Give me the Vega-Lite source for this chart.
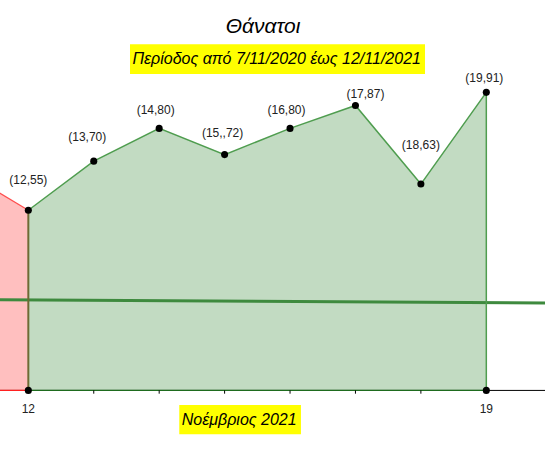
{
  "$schema": "https://vega.github.io/schema/vega-lite/v6.json",
  "width": 545,
  "height": 451,
  "autosize": {"type": "fit", "contains": "padding"},
  "padding": 0,
  "config": {"view": {"stroke": null}, "font": "Liberation Sans"},
  "datasets": {
    "deaths": [
      {"day": 12, "deaths": 55, "label": "(12,55)"},
      {"day": 13, "deaths": 70, "label": "(13,70)"},
      {"day": 14, "deaths": 80, "label": "(14,80)"},
      {"day": 15, "deaths": 72, "label": "(15,,72)"},
      {"day": 16, "deaths": 80, "label": "(16,80)"},
      {"day": 17, "deaths": 87, "label": "(17,87)"},
      {"day": 18, "deaths": 63, "label": "(18,63)"},
      {"day": 19, "deaths": 91, "label": "(19,91)"}
    ],
    "previous": [
      {"day": 11, "deaths": 67},
      {"day": 12, "deaths": 55}
    ],
    "trend": [
      {"day": 11, "deaths": 27.71},
      {"day": 20, "deaths": 26.69}
    ],
    "ticks": [
      {"day": 13}, {"day": 14}, {"day": 15}, {"day": 16}, {"day": 17}, {"day": 18}
    ],
    "ends": [
      {"day": 12, "tick": "12"},
      {"day": 19, "tick": "19"}
    ]
  },
  "layer": [
    {
      "data": {"name": "previous"},
      "mark": {"type": "area", "color": "#ffbfbf", "clip": true},
      "encoding": {
        "x": {"field": "day", "type": "quantitative", "scale": {"domain": [11.567, 19.897], "nice": false, "zero": false}, "axis": null},
        "y": {"field": "deaths", "type": "quantitative", "scale": {"domain": [-18.5, 119.2], "nice": false, "zero": false}, "axis": null},
        "y2": {"datum": 0}
      }
    },
    {
      "data": {"name": "deaths"},
      "mark": {"type": "area", "color": "#c2dbc2"},
      "encoding": {
        "x": {"field": "day", "type": "quantitative", "axis": null},
        "y": {"field": "deaths", "type": "quantitative", "axis": null},
        "y2": {"datum": 0}
      }
    },
    {
      "data": {"name": "trend"},
      "mark": {"type": "line", "color": "#3e8a3e", "strokeWidth": 3, "clip": true},
      "encoding": {
        "x": {"field": "day", "type": "quantitative", "axis": null},
        "y": {"field": "deaths", "type": "quantitative", "axis": null}
      }
    },
    {
      "data": {"name": "previous"},
      "mark": {"type": "line", "color": "#ff4d4d", "strokeWidth": 1.2, "clip": true},
      "encoding": {
        "x": {"field": "day", "type": "quantitative", "axis": null},
        "y": {"field": "deaths", "type": "quantitative", "axis": null}
      }
    },
    {
      "data": {"name": "deaths"},
      "mark": {"type": "line", "color": "#4f9d4f", "strokeWidth": 1.5},
      "encoding": {
        "x": {"field": "day", "type": "quantitative", "axis": null},
        "y": {"field": "deaths", "type": "quantitative", "axis": null}
      }
    },
    {
      "data": {"name": "deaths"},
      "transform": [{"filter": "datum.day == 12"}],
      "mark": {"type": "rule", "color": "#6e6a35", "strokeWidth": 2},
      "encoding": {
        "x": {"field": "day", "type": "quantitative", "axis": null},
        "y": {"field": "deaths", "type": "quantitative", "axis": null},
        "y2": {"datum": 0}
      }
    },
    {
      "data": {"name": "deaths"},
      "transform": [{"filter": "datum.day == 19"}],
      "mark": {"type": "rule", "color": "#4f9d4f", "strokeWidth": 1.5},
      "encoding": {
        "x": {"field": "day", "type": "quantitative", "axis": null},
        "y": {"field": "deaths", "type": "quantitative", "axis": null},
        "y2": {"datum": 0}
      }
    },
    {
      "data": {"values": [{}]},
      "mark": {"type": "rule", "color": "black", "strokeWidth": 1, "clip": true},
      "encoding": {
        "x": {"datum": 11, "axis": null},
        "x2": {"datum": 20},
        "y": {"datum": 0, "axis": null}
      }
    },
    {
      "data": {"values": [{}]},
      "mark": {"type": "rule", "color": "#ff2020", "strokeWidth": 1.2, "clip": true},
      "encoding": {
        "x": {"datum": 11, "axis": null},
        "x2": {"datum": 12},
        "y": {"datum": 0, "axis": null}
      }
    },
    {
      "data": {"values": [{}]},
      "mark": {"type": "rule", "color": "#1e6b1e", "strokeWidth": 1.2},
      "encoding": {
        "x": {"datum": 12, "axis": null},
        "x2": {"datum": 19},
        "y": {"datum": 0, "axis": null}
      }
    },
    {
      "data": {"name": "ticks"},
      "mark": {"type": "rule", "color": "black", "strokeWidth": 1},
      "encoding": {
        "x": {"field": "day", "type": "quantitative", "axis": null},
        "y": {"datum": 0, "axis": null},
        "y2": {"datum": -1}
      }
    },
    {
      "data": {"name": "deaths"},
      "mark": {"type": "circle", "color": "black", "size": 50, "opacity": 1},
      "encoding": {
        "x": {"field": "day", "type": "quantitative", "axis": null},
        "y": {"field": "deaths", "type": "quantitative", "axis": null}
      }
    },
    {
      "data": {"name": "ends"},
      "mark": {"type": "circle", "color": "black", "size": 50, "opacity": 1},
      "encoding": {
        "x": {"field": "day", "type": "quantitative", "axis": null},
        "y": {"datum": 0, "axis": null}
      }
    },
    {
      "data": {"name": "ends"},
      "mark": {"type": "text", "dy": 19, "fontSize": 12, "color": "#222222"},
      "encoding": {
        "x": {"field": "day", "type": "quantitative", "axis": null},
        "y": {"datum": 0, "axis": null},
        "text": {"field": "tick"}
      }
    },
    {
      "data": {"name": "deaths"},
      "transform": [{"filter": "datum.day == 12"}],
      "mark": {"type": "text", "dy": -30, "fontSize": 12, "color": "#222222"},
      "encoding": {
        "x": {"field": "day", "type": "quantitative", "axis": null},
        "y": {"field": "deaths", "type": "quantitative", "axis": null},
        "text": {"field": "label"}
      }
    },
    {
      "data": {"name": "deaths"},
      "transform": [{"filter": "datum.day == 13"}],
      "mark": {"type": "text", "dx": -6.5, "dy": -24, "fontSize": 12, "color": "#222222"},
      "encoding": {
        "x": {"field": "day", "type": "quantitative", "axis": null},
        "y": {"field": "deaths", "type": "quantitative", "axis": null},
        "text": {"field": "label"}
      }
    },
    {
      "data": {"name": "deaths"},
      "transform": [{"filter": "datum.day == 14 || datum.day == 16"}],
      "mark": {"type": "text", "dx": -3.5, "dy": -18, "fontSize": 12, "color": "#222222"},
      "encoding": {
        "x": {"field": "day", "type": "quantitative", "axis": null},
        "y": {"field": "deaths", "type": "quantitative", "axis": null},
        "text": {"field": "label"}
      }
    },
    {
      "data": {"name": "deaths"},
      "transform": [{"filter": "datum.day == 15"}],
      "mark": {"type": "text", "dx": -2, "dy": -22, "fontSize": 12, "color": "#222222"},
      "encoding": {
        "x": {"field": "day", "type": "quantitative", "axis": null},
        "y": {"field": "deaths", "type": "quantitative", "axis": null},
        "text": {"field": "label"}
      }
    },
    {
      "data": {"name": "deaths"},
      "transform": [{"filter": "datum.day == 17"}],
      "mark": {"type": "text", "dx": 10, "dy": -11, "fontSize": 12, "color": "#222222"},
      "encoding": {
        "x": {"field": "day", "type": "quantitative", "axis": null},
        "y": {"field": "deaths", "type": "quantitative", "axis": null},
        "text": {"field": "label"}
      }
    },
    {
      "data": {"name": "deaths"},
      "transform": [{"filter": "datum.day == 18"}],
      "mark": {"type": "text", "dy": -39, "fontSize": 12, "color": "#222222"},
      "encoding": {
        "x": {"field": "day", "type": "quantitative", "axis": null},
        "y": {"field": "deaths", "type": "quantitative", "axis": null},
        "text": {"field": "label"}
      }
    },
    {
      "data": {"name": "deaths"},
      "transform": [{"filter": "datum.day == 19"}],
      "mark": {"type": "text", "dx": -2, "dy": -14, "fontSize": 12, "color": "#222222"},
      "encoding": {
        "x": {"field": "day", "type": "quantitative", "axis": null},
        "y": {"field": "deaths", "type": "quantitative", "axis": null},
        "text": {"field": "label"}
      }
    },
    {
      "data": {"values": [{}]},
      "mark": {"type": "text", "fontSize": 21, "fontStyle": "italic", "color": "black"},
      "encoding": {
        "x": {"datum": 15.587, "axis": null},
        "y": {"datum": 111.05, "axis": null},
        "text": {"value": "Θάνατοι"}
      }
    },
    {
      "data": {"values": [{}]},
      "mark": {"type": "rect", "color": "#ffff00"},
      "encoding": {
        "x": {"datum": 13.554, "axis": null},
        "x2": {"datum": 18.063},
        "y": {"datum": 105.67, "axis": null},
        "y2": {"datum": 96.6}
      }
    },
    {
      "data": {"values": [{}]},
      "mark": {"type": "text", "fontSize": 16, "fontStyle": "italic", "color": "black"},
      "encoding": {
        "x": {"datum": 15.796, "axis": null},
        "y": {"datum": 101.2, "axis": null},
        "text": {"value": "Περίοδος από 7/11/2020 έως 12/11/2021"}
      }
    },
    {
      "data": {"values": [{}]},
      "mark": {"type": "rect", "color": "#ffff00"},
      "encoding": {
        "x": {"datum": 14.307, "axis": null},
        "x2": {"datum": 16.167},
        "y": {"datum": -4.46, "axis": null},
        "y2": {"datum": -13.4}
      }
    },
    {
      "data": {"values": [{}]},
      "mark": {"type": "text", "fontSize": 16, "fontStyle": "italic", "color": "black"},
      "encoding": {
        "x": {"datum": 15.223, "axis": null},
        "y": {"datum": -9.0, "axis": null},
        "text": {"value": "Νοέμβριος 2021"}
      }
    }
  ]
}
